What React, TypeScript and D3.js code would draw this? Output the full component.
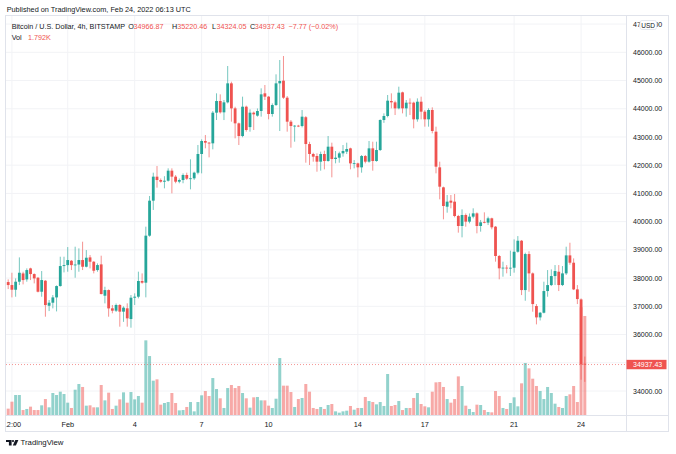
import * as d3 from "d3";
import { useEffect, useRef } from "react";

// 4h candles, BTCUSD Bitstamp, Jan 29 08:00 UTC .. Feb 24 04:00 UTC
const startTime = Date.UTC(2022, 0, 29, 8);
const step = 4 * 3600 * 1000;

const opens = [
  37860, 37754, 37588, 37872, 38165, 37954, 38344, 38143, 38013, 37517,
  37907, 37021, 37128, 37316, 37718, 38427, 38460, 38615, 38460, 38480,
  38640, 38403, 38734, 38580, 38285, 38486, 37376, 37576, 36929, 36846,
  37047, 36811, 36929, 36550, 37306, 37341, 37897, 37838, 39503, 40743,
  41594, 41475, 41416, 41450, 41806, 41594, 41416, 41475, 41653, 41523,
  41535, 41735, 42397, 42857, 42798, 42775, 43861, 44274, 43873, 44227,
  44900, 44014, 43483, 43034, 44073, 43350, 43861, 43755, 43920, 44546,
  44428, 43814, 44132, 44900, 44995, 44392, 43542, 43388, 43400, 43388,
  43700, 42750, 42397, 42326, 42125, 42396, 42148, 42656, 42219, 42266,
  42420, 42479, 42597, 42065, 42065, 41924, 42325, 42125, 42597, 42148,
  42538, 43601, 43743, 44274, 44227, 44014, 44581, 44014, 44215, 44215,
  43625, 44250, 43896, 43625, 43956, 43188, 41924, 41216, 40530, 40743,
  40708, 40200, 39846, 40235, 40000, 40177, 40294, 39846, 39990, 39966,
  40118, 39822, 38783, 38346, 38370, 38350, 38367, 38934, 39324, 37576,
  38852, 38167, 37010, 36608, 36773, 37541, 37753, 38072, 38226, 37754,
  38167, 38805, 38545, 37600, 37245, 34966.87,
];
const highs = [
  37954, 38190, 37990, 38734, 38226, 38344, 38368, 38167, 38040, 38250,
  37930, 37222, 37400, 37740, 38757, 38757, 39100, 38640, 39112, 39053,
  39289, 38993, 38817, 38600, 38521, 38793, 37694, 37600, 37047, 37100,
  37080, 37000, 37106, 37400, 37459, 38228, 38167, 39822, 40909, 41735,
  41971, 41530, 41610, 41889, 41889, 41650, 41530, 41710, 41735, 42208,
  41770, 42716, 42916, 43070, 42820, 43920, 44546, 44510, 44310, 45514,
  44959, 44070, 43510, 44428, 44110, 43979, 43900, 44010, 44723, 44841,
  44450, 44190, 45219, 45727, 45868, 44450, 43600, 43420, 43430, 43955,
  43740, 42830, 42440, 42420, 42480, 42514, 43034, 42798, 42502, 42479,
  42715, 42798, 42621, 42183, 42089, 42361, 42361, 42857, 42833, 42833,
  43625, 43837, 44487, 44546, 44286, 44782, 44605, 44310, 44368, 44250,
  44368, 44428, 43955, 44015, 44050, 43365, 42125, 41240, 40944, 40944,
  40980, 40240, 40436, 40290, 40290, 40472, 40330, 40060, 40330, 40177,
  40140, 39846, 38820, 38582, 38460, 38972, 39371, 39489, 39350, 38900,
  38950, 38200, 37080, 36800, 37872, 38285, 38309, 38462, 38462, 38427,
  39112, 39253, 38698, 37753, 37281, 35220.46,
];
const lows = [
  37612, 37317, 37340, 37754, 37777, 37872, 37930, 37813, 37494, 37340,
  36632, 36832, 36927, 36820, 37700, 38202, 38226, 38285, 38013, 38226,
  38285, 38380, 38344, 38167, 38226, 37423, 37104, 36632, 36752, 36800,
  36279, 36450, 36279, 36243, 37047, 37282, 37800, 37318, 39467, 40413,
  41204, 41380, 41180, 41420, 41003, 41360, 41360, 41360, 41480, 41145,
  41480, 41676, 41711, 42598, 42278, 42562, 43601, 43830, 43600, 44190,
  43542, 42951, 42715, 42990, 43188, 43188, 43247, 43720, 43720, 44310,
  43625, 43720, 44100, 43211, 44350, 43188, 42620, 42833, 43350, 43340,
  42089, 42007, 42125, 41770, 41806, 41853, 42125, 41570, 42066, 42089,
  42302, 42396, 41853, 41888, 41570, 41735, 42065, 42089, 41806, 42125,
  42502, 43500, 43695, 44014, 43778, 43979, 43837, 43719, 43778, 43306,
  43542, 43625, 43365, 43365, 43129, 41712, 40791, 40082, 40318, 40472,
  40153, 39610, 39444, 39822, 39940, 40118, 39586, 39645, 39940, 39880,
  39728, 38582, 37956, 38050, 38170, 38074, 38192, 38900, 37399, 37198,
  37517, 36809, 36360, 36500, 36750, 37340, 37718, 37754, 37541, 37718,
  38110, 38474, 37576, 37080, 34400, 34324.05,
];
const closes = [
  37754, 37588, 37872, 38190, 37930, 38285, 38143, 37990, 37517, 37931,
  37045, 37128, 37316, 37718, 38427, 38460, 38640, 38460, 38480, 38640,
  38403, 38722, 38580, 38261, 38462, 37435, 37576, 36927, 36846, 37047,
  36811, 36952, 36574, 37306, 37341, 37897, 37838, 39503, 40743, 41594,
  41475, 41416, 41450, 41806, 41594, 41416, 41475, 41653, 41523, 41535,
  41735, 42397, 42857, 42798, 42775, 43861, 44274, 43873, 44227, 44900,
  44014, 43483, 43034, 44073, 43247, 43861, 43802, 43920, 44510, 44428,
  43814, 44132, 44900, 44983, 44392, 43542, 43388, 43400, 43388, 43719,
  42750, 42397, 42302, 42125, 42396, 42148, 42656, 42219, 42266, 42420,
  42503, 42573, 42065, 42070, 41924, 42325, 42125, 42597, 42148, 42538,
  43601, 43743, 44286, 44227, 44014, 44569, 44014, 44215, 44191, 43625,
  44250, 43896, 43625, 43956, 43212, 41948, 41239, 40554, 40708, 40672,
  40200, 39846, 40235, 40000, 40177, 40294, 39846, 39976, 39970, 40118,
  39799, 38783, 38346, 38370, 38350, 38367, 38934, 39324, 37576, 38852,
  38167, 37080, 36608, 36773, 37541, 37753, 38072, 38250, 37754, 38167,
  38805, 38545, 37600, 37257, 34945.2, 34937.43,
];
const volumes = [
  115, 241, 362, 362, 90, 109, 151, 90, 90, 175,
  289, 139, 398, 362, 422, 380, 223, 127, 458, 561,
  507, 169, 175, 139, 139, 543, 265, 404, 109, 169,
  283, 410, 223, 416, 283, 344, 223, 1351, 1067, 621,
  645, 187, 217, 235, 398, 217, 84, 90, 145, 235,
  66, 235, 356, 434, 344, 669, 470, 302, 127, 488,
  543, 488, 525, 398, 302, 133, 320, 326, 265, 265,
  169, 127, 295, 1031, 531, 531, 416, 145, 289, 308,
  561, 422, 127, 109, 145, 109, 181, 199, 66, 42,
  66, 78, 163, 96, 127, 127, 326, 253, 235, 193,
  235, 163, 742, 163, 181, 253, 90, 127, 127, 308,
  398, 199, 157, 139, 422, 591, 597, 507, 289, 223,
  289, 699, 525, 169, 109, 54, 187, 181, 90, 54,
  48, 434, 344, 127, 109, 217, 320, 157, 573, 941,
  844, 657, 525, 434, 289, 507, 398, 205, 145, 127,
  344, 374, 525, 235, 1950, 1792,
];

const priceTicks = [34000, 35000, 36000, 37000, 38000, 39000, 40000, 41000, 42000, 43000, 44000, 45000, 46000, 47000];
// labels hidden by the last-price tag
const hiddenPriceLabels = [35000];
const timeTicks = [
  Date.UTC(2022, 0, 29, 12), Date.UTC(2022, 1, 1), Date.UTC(2022, 1, 4), Date.UTC(2022, 1, 7),
  Date.UTC(2022, 1, 10), Date.UTC(2022, 1, 14), Date.UTC(2022, 1, 17), Date.UTC(2022, 1, 21), Date.UTC(2022, 1, 24),
];
const timeLabels = ["12:00", "Feb", "4", "7", "10", "14", "17", "21", "24"];

const upColor = "#26a69a";
const downColor = "#ef5350";
const textColor = "#131722";
const borderColor = "#e0e3eb";
const gridColor = "#f2f3f6";
const font = "'Liberation Sans', Arial, sans-serif";

const pane = { left: 6, right: 626, top: 16, bottom: 415 };
const frame = { right: 669, bottom: 432 };

const CandleChart = () => {
  const ref = useRef<SVGSVGElement>(null);

  useEffect(() => {
    const svg = d3.select(ref.current);
    svg.selectAll("*").remove();

    const n = closes.length;
    const xScale = d3
      .scaleUtc()
      .domain([startTime, startTime + (n - 1) * step])
      .range([8.2, 8.2 + 3.72 * (n - 1)]);
    const yScale = d3.scaleLinear().domain([34000, 46000]).range([391, 52.3]);
    const vScale = d3.scaleLinear().domain([0, 2000]).range([pane.bottom, pane.bottom - 110.5]);
    const t = (i: number) => startTime + i * step;

    svg.append("rect").attr("width", 676).attr("height", 454).attr("fill", "#fff");

    const defs = svg.append("defs");
    defs.append("clipPath").attr("id", "pane")
      .append("rect").attr("x", pane.left).attr("y", pane.top)
      .attr("width", pane.right - pane.left).attr("height", pane.bottom - pane.top);
    defs.append("clipPath").attr("id", "taxis")
      .append("rect").attr("x", pane.left).attr("y", pane.bottom)
      .attr("width", pane.right - pane.left).attr("height", frame.bottom - pane.bottom);

    const g = svg.append("g").attr("clip-path", "url(#pane)");

    // grid
    g.selectAll(".hgrid").data(priceTicks).join("line")
      .attr("x1", pane.left).attr("x2", pane.right)
      .attr("y1", (d) => yScale(d)).attr("y2", (d) => yScale(d))
      .attr("stroke", gridColor).attr("stroke-width", 1);
    g.selectAll(".vgrid").data(timeTicks).join("line")
      .attr("x1", (d) => xScale(d)).attr("x2", (d) => xScale(d))
      .attr("y1", pane.top).attr("y2", pane.bottom)
      .attr("stroke", gridColor).attr("stroke-width", 1);

    const idx = d3.range(n);
    const isUp = (i: number) => closes[i] >= opens[i];

    // volume
    g.append("g").selectAll("rect").data(idx).join("rect")
      .attr("x", (i) => xScale(t(i)) - 1.5)
      .attr("width", 3)
      .attr("y", (i) => vScale(volumes[i]))
      .attr("height", (i) => pane.bottom - vScale(volumes[i]))
      .attr("fill", (i) => (isUp(i) ? upColor : downColor))
      .attr("fill-opacity", 0.5);

    // candles
    const candles = g.append("g").selectAll("g").data(idx).join("g");
    candles.append("line")
      .attr("x1", (i) => xScale(t(i))).attr("x2", (i) => xScale(t(i)))
      .attr("y1", (i) => yScale(highs[i])).attr("y2", (i) => yScale(lows[i]))
      .attr("stroke", (i) => (isUp(i) ? upColor : downColor))
      .attr("stroke-opacity", 0.7)
      .attr("stroke-width", 0.9);
    candles.append("rect")
      .attr("x", (i) => xScale(t(i)) - 1.4)
      .attr("width", 2.8)
      .attr("y", (i) => yScale(Math.max(opens[i], closes[i])))
      .attr("height", (i) => Math.max(0.8, Math.abs(yScale(opens[i]) - yScale(closes[i]))))
      .attr("fill", (i) => (isUp(i) ? upColor : downColor));

    // last price line
    const last = closes[n - 1];
    g.append("line")
      .attr("x1", pane.left).attr("x2", pane.right)
      .attr("y1", yScale(last)).attr("y2", yScale(last))
      .attr("stroke", downColor).attr("stroke-opacity", 0.6)
      .attr("stroke-dasharray", "1,2");

    // frame
    const fr = svg.append("g").attr("stroke", borderColor).attr("fill", "none");
    fr.append("rect").attr("x", pane.left - 0.5).attr("y", pane.top - 0.5)
      .attr("width", frame.right - pane.left).attr("height", frame.bottom - pane.top);
    fr.append("line").attr("x1", pane.right + 0.5).attr("x2", pane.right + 0.5)
      .attr("y1", pane.top).attr("y2", frame.bottom);
    fr.append("line").attr("x1", pane.left).attr("x2", frame.right)
      .attr("y1", pane.bottom + 0.5).attr("y2", pane.bottom + 0.5);

    // price axis
    svg.append("g").selectAll("text")
      .data(priceTicks.filter((p) => !hiddenPriceLabels.includes(p)))
      .join("text")
      .attr("x", 633).attr("y", (d) => yScale(d) + 2.6)
      .attr("font-family", font).attr("font-size", 7).attr("fill", textColor)
      .text((d) => d3.format(".2f")(d));

    const usd = svg.append("g");
    usd.append("rect").attr("x", 640).attr("y", 20.5).attr("width", 16.5).attr("height", 9)
      .attr("rx", 2).attr("fill", "#fff").attr("stroke", borderColor).attr("stroke-width", 0.8);
    usd.append("text").attr("x", 648.2).attr("y", 27.5).attr("text-anchor", "middle")
      .attr("font-family", font).attr("font-size", 6.5).attr("fill", textColor).text("USD");

    const lp = svg.append("g");
    lp.append("rect").attr("x", pane.right + 0.5).attr("y", yScale(last) - 4.7)
      .attr("width", 40).attr("height", 9.4).attr("fill", downColor);
    lp.append("text").attr("x", 633).attr("y", yScale(last) + 2.6)
      .attr("font-family", font).attr("font-size", 7).attr("fill", "#fff")
      .text(d3.format(".2f")(last));

    // time axis
    svg.append("g").attr("clip-path", "url(#taxis)")
      .selectAll("text").data(timeTicks).join("text")
      .attr("x", (d) => xScale(d)).attr("y", 426.7).attr("text-anchor", "middle")
      .attr("font-family", font).attr("font-size", 7.3).attr("fill", textColor)
      .text((_, k) => timeLabels[k]);

    // header
    svg.append("text").attr("x", 6.7).attr("y", 12.2)
      .attr("font-family", font).attr("font-size", 7.3).attr("fill", textColor)
      .text("Published on TradingView.com, Feb 24, 2022 06:13 UTC");

    const fmt = d3.format(".2f");
    const change = closes[n - 1] - closes[n - 2];
    const sign = change < 0 ? "\u2212" : "+";
    const legend = svg.append("text").attr("y", 28.6)
      .attr("font-family", font).attr("font-size", 7.2).attr("fill", textColor);
    legend.append("tspan").attr("x", 11.7).text("Bitcoin / U.S. Dollar, 4h, BITSTAMP");
    const items: [string, string, number, number][] = [
      ["O", fmt(opens[n - 1]), 128.3, 133.6],
      ["H", fmt(highs[n - 1]), 172, 177.2],
      ["L", fmt(lows[n - 1]), 212, 216.5],
      ["C", fmt(closes[n - 1]), 250, 254.8],
    ];
    items.forEach(([k, v, kx, vx]) => {
      legend.append("tspan").attr("x", kx).text(k);
      legend.append("tspan").attr("x", vx).attr("fill", downColor).text(v);
    });
    legend.append("tspan").attr("x", 288.5).attr("fill", downColor)
      .text(`${sign}${fmt(Math.abs(change))} (${sign}${fmt(Math.abs(change / closes[n - 2]) * 100)}%)`);

    const vol = svg.append("text").attr("y", 39.6)
      .attr("font-family", font).attr("font-size", 7.2).attr("fill", textColor);
    vol.append("tspan").attr("x", 11.7).text("Vol");
    vol.append("tspan").attr("x", 28).attr("fill", downColor)
      .text(`${d3.format(".3f")(volumes[n - 1] / 1000)}K`);

    // logo
    const logo = svg.append("g").attr("fill", textColor);
    logo.append("path").attr("d", "M6,440 H11.6 V445.4 H8.9 V442.1 H6 Z");
    logo.append("circle").attr("cx", 13).attr("cy", 441.1).attr("r", 1.05);
    logo.append("path").attr("d", "M15.3,440 H18.4 L15.9,445.4 H12.8 Z");
    svg.append("text").attr("x", 20.5).attr("y", 445.3)
      .attr("font-family", font).attr("font-size", 7.8).attr("fill", textColor)
      .text("TradingView");
  }, []);

  return <svg ref={ref} width={676} height={454} style={{ display: "block" }} />;
};

export default function App() {
  return (
    <div style={{ position: "fixed", left: 0, top: 0 }}>
      <CandleChart />
    </div>
  );
}
